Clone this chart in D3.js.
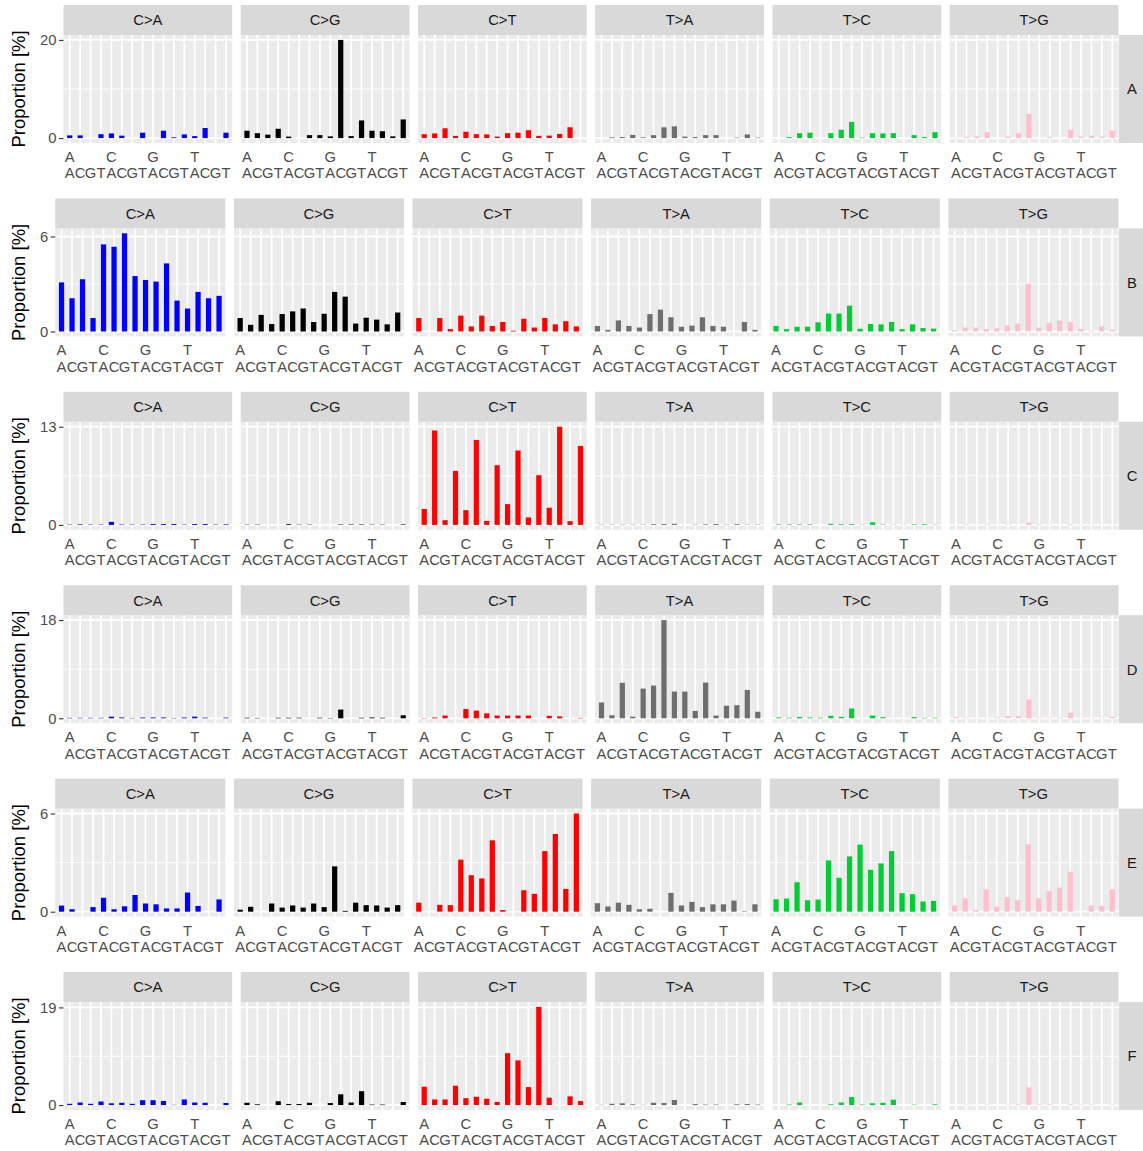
<!DOCTYPE html>
<html>
<head>
<meta charset="utf-8">
<script src="https://cdn.jsdelivr.net/npm/d3@7"></script>
<style>
  body { margin: 0; background: #fff; }
  svg { display: block; font-family: "Liberation Sans", Arial, sans-serif; }
</style>
</head>
<body>
<div id="chart"></div>
<script>
// mutation types (columns) and samples (rows)
const mutationTypes = ['C>A', 'C>G', 'C>T', 'T>A', 'T>C', 'T>G'];
const sampleNames = ['A', 'B', 'C', 'D', 'E', 'F'];
const mutationColors = ['#0000FF', '#000000', '#FF0000', '#6E6E6E', '#00CC33', '#FFC0CB'];

// trinucleotide context: 5' base (first label line) and 3' base (second line)
const fivePrime = ['A', 'A', 'A', 'A', 'C', 'C', 'C', 'C', 'G', 'G', 'G', 'G', 'T', 'T', 'T', 'T'];
const threePrime = ['A', 'C', 'G', 'T', 'A', 'C', 'G', 'T', 'A', 'C', 'G', 'T', 'A', 'C', 'G', 'T'];
const topLabels = ['A', '', '', '', 'C', '', '', '', 'G', '', '', '', 'T', '', '', ''];

// y tick (max) per row
const yTickMax = [20, 6, 13, 18, 6, 19];

// proportions [%], one array of 16 per mutation type
const sampleA = [
  [0.55, 0.55, 0, 0.8, 0.95, 0.5, 0, 1.1, 0, 1.5, 0.15, 0.75, 0.4, 2.05, 0, 1.1],
  [1.5, 1.0, 0.7, 1.9, 0.3, 0, 0.6, 0.6, 0.35, 20, 0.4, 3.6, 1.5, 1.4, 0.35, 3.8],
  [0.8, 0.95, 2.0, 0.45, 1.3, 0.8, 0.75, 0.3, 1.0, 1.1, 1.6, 0.45, 0.5, 0.85, 2.2, 0],
  [0, 0.15, 0.2, 0.65, 0.15, 0.6, 2.2, 2.4, 0.3, 0.2, 0.6, 0.6, 0, 0.1, 0.75, 0.1],
  [0, 0.2, 1.0, 1.1, 0, 1.0, 1.7, 3.3, 0.1, 1.0, 0.95, 1.0, 0, 0.6, 0.2, 1.2],
  [0.05, 0.25, 0.35, 1.2, 0, 0.3, 1.0, 4.9, 0, 0.2, 0, 1.7, 0.3, 0.5, 0.3, 1.5]
];
const sampleB = [
  [3.1, 2.1, 3.3, 0.85, 5.5, 5.35, 6.2, 3.5, 3.25, 3.15, 4.3, 1.95, 1.45, 2.5, 2.1, 2.25],
  [0.85, 0.42, 1.05, 0.47, 1.1, 1.27, 1.45, 0.6, 1.12, 2.5, 2.2, 0.5, 0.87, 0.75, 0.45, 1.2],
  [0.85, 0, 0.85, 0.15, 1.0, 0.32, 1.0, 0.35, 0.6, 0.05, 0.8, 0.25, 0.85, 0.45, 0.65, 0.32],
  [0.35, 0.1, 0.7, 0.35, 0.25, 1.1, 1.38, 0.9, 0.3, 0.37, 0.9, 0.35, 0.3, 0, 0.6, 0.1],
  [0.35, 0.15, 0.3, 0.3, 0.58, 1.13, 1.13, 1.63, 0.17, 0.47, 0.45, 0.6, 0.15, 0.45, 0.22, 0.18],
  [0.08, 0.25, 0.25, 0.15, 0.2, 0.38, 0.5, 3.0, 0.25, 0.55, 0.68, 0.6, 0.15, 0.05, 0.32, 0.1]
];
const sampleC = [
  [0.05, 0.08, 0.05, 0.05, 0.4, 0.06, 0.05, 0.05, 0.12, 0.12, 0.12, 0.05, 0.12, 0.12, 0.05, 0.08],
  [0.04, 0.04, 0, 0, 0.1, 0.04, 0.04, 0, 0, 0.06, 0.06, 0.06, 0.04, 0.04, 0, 0.07],
  [2.1, 12.5, 0.62, 7.15, 1.95, 11.25, 0.53, 7.9, 2.75, 9.85, 0.98, 6.58, 2.27, 13.0, 0.49, 10.45],
  [0.04, 0.04, 0.04, 0.04, 0.04, 0.1, 0.12, 0.14, 0, 0.04, 0.08, 0.12, 0.04, 0.1, 0.04, 0.04],
  [0.07, 0.07, 0.07, 0.07, 0, 0.14, 0.1, 0.1, 0.04, 0.35, 0.05, 0.03, 0.03, 0.07, 0.09, 0.03],
  [0.03, 0.08, 0.03, 0.08, 0.03, 0.08, 0, 0.3, 0.08, 0.05, 0, 0.1, 0.04, 0.04, 0.04, 0.04]
];
const sampleD = [
  [0.08, 0.08, 0.08, 0.08, 0.3, 0.15, 0.06, 0.14, 0.15, 0.15, 0.06, 0.14, 0.3, 0.12, 0, 0.12],
  [0.1, 0.06, 0, 0.1, 0.1, 0.1, 0, 0.1, 0.06, 1.6, 0, 0.1, 0.15, 0.1, 0, 0.55],
  [0.05, 0.15, 0.5, 0, 1.7, 1.4, 0.9, 0.5, 0.5, 0.5, 0.5, 0, 0.45, 0.35, 0, 0.07],
  [2.9, 0.55, 6.5, 0.3, 5.45, 6.0, 18, 4.9, 4.9, 1.35, 6.55, 0.5, 2.3, 2.4, 5.2, 1.2],
  [0.15, 0.1, 0.25, 0.15, 0.1, 0.45, 0.25, 1.8, 0, 0.5, 0.2, 0, 0, 0.2, 0.08, 0.1],
  [0.2, 0.1, 0.04, 0.06, 0.15, 0.4, 0.4, 3.45, 0.1, 0.1, 0.1, 1.05, 0.04, 0.06, 0.1, 0.25]
];
const sampleE = [
  [0.37, 0.15, 0, 0.28, 0.85, 0.15, 0.33, 1.02, 0.5, 0.45, 0.2, 0.2, 1.17, 0.35, 0, 0.75],
  [0.12, 0.3, 0, 0.5, 0.25, 0.38, 0.25, 0.5, 0.28, 2.77, 0.05, 0.55, 0.4, 0.38, 0.25, 0.4],
  [0.55, 0, 0.42, 0.4, 3.18, 2.23, 2.03, 4.36, 0.1, 0, 1.31, 1.09, 3.7, 4.75, 1.39, 6.0],
  [0.52, 0.32, 0.55, 0.42, 0.15, 0.18, 0, 1.15, 0.38, 0.6, 0.28, 0.45, 0.45, 0.68, 0.03, 0.45],
  [0.76, 0.8, 1.8, 0.7, 0.74, 3.13, 2.07, 3.38, 4.1, 2.56, 2.95, 3.7, 1.13, 1.07, 0.62, 0.66],
  [0.37, 0.82, 0.1, 1.37, 0.3, 0.9, 0.7, 4.12, 0.82, 1.27, 1.47, 2.43, 0, 0.37, 0.35, 1.37]
];
const sampleF = [
  [0.25, 0.5, 0.25, 0.7, 0.35, 0.45, 0.25, 0.95, 0.95, 0.8, 0.05, 1.1, 0.5, 0.45, 0, 0.4],
  [0.45, 0.15, 0, 0.75, 0.2, 0.2, 0.45, 0, 0.4, 2.1, 0.5, 2.7, 0.1, 0.1, 0, 0.6],
  [3.57, 1.1, 1.1, 3.77, 1.36, 1.62, 1.23, 0.6, 10.1, 8.7, 3.5, 19.1, 1.43, 0, 1.69, 0.78],
  [0.05, 0.25, 0.35, 0.15, 0.05, 0.45, 0.4, 1.0, 0, 0.2, 0.1, 0.1, 0, 0.15, 0.2, 0.1],
  [0, 0.1, 0.5, 0, 0, 0.15, 0.5, 1.55, 0.1, 0.35, 0.45, 1.05, 0, 0.08, 0, 0.15],
  [0, 0.1, 0, 0.1, 0, 0.1, 0.15, 3.45, 0.15, 0.15, 0, 0.15, 0.1, 0.1, 0, 0.1]
];
const samples = [sampleA, sampleB, sampleC, sampleD, sampleE, sampleF];

const W = 1143, H = 1151;
const firstRowTop = 5, rowPitch = 193.4;
const stripH = 30, panelH = 108;
const panelRight = 1118.5, panelGap = 8.5;
const fontSize = 14.8;
const contexts = fivePrime.map((b, i) => b + '_' + threePrime[i]);

const svg = d3.select('#chart')
  .append('svg')
  .attr('width', W)
  .attr('height', H);

svg.append('rect').attr('width', W).attr('height', H).attr('fill', '#fff');

// measure tick label width so the panels start where ggplot would put them
const measure = svg.append('text').style('font-size', fontSize + 'px');
const labelWidth = s => { measure.text(s); return measure.node().getComputedTextLength(); };

samples.forEach((rowVals, r) => {
  const top = firstRowTop + r * rowPitch;
  const panelTop = top + stripH;
  const panelBottom = panelTop + panelH;
  const maxV = d3.max(rowVals.flat());

  const y = d3.scaleLinear()
    .domain([-0.05 * maxV, 1.05 * maxV])
    .range([panelBottom, panelTop]);

  const left = 47 + labelWidth(String(yTickMax[r]));
  const pw = (panelRight - left - 5 * panelGap) / 6;

  const row = svg.append('g');

  mutationTypes.forEach((mt, c) => {
    const x0 = left + c * (pw + panelGap);
    const x = d3.scalePoint()
      .domain(contexts)
      .range([x0, x0 + pw])
      .padding(0.6);
    const bw = x.step() * 0.5;
    const g = row.append('g');

    // panel background
    g.append('rect')
      .attr('x', x0).attr('y', panelTop)
      .attr('width', pw).attr('height', panelH)
      .attr('fill', '#EBEBEB');

    // minor horizontal grid
    g.append('line')
      .attr('x1', x0).attr('x2', x0 + pw)
      .attr('y1', y(yTickMax[r] / 2)).attr('y2', y(yTickMax[r] / 2))
      .attr('stroke', '#fff').attr('stroke-width', 0.9);

    // major horizontal grid
    g.selectAll('.hgrid')
      .data([0, yTickMax[r]])
      .enter().append('line')
      .attr('x1', x0).attr('x2', x0 + pw)
      .attr('y1', d => y(d)).attr('y2', d => y(d))
      .attr('stroke', '#fff').attr('stroke-width', 1.8);

    // vertical grid
    g.selectAll('.vgrid')
      .data(contexts)
      .enter().append('line')
      .attr('x1', d => x(d)).attr('x2', d => x(d))
      .attr('y1', panelTop).attr('y2', panelBottom)
      .attr('stroke', '#fff').attr('stroke-width', 1.8);

    // bars
    g.selectAll('.bar')
      .data(rowVals[c])
      .enter().append('rect')
      .attr('x', (d, i) => x(contexts[i]) - bw / 2)
      .attr('width', bw)
      .attr('y', d => y(d))
      .attr('height', d => y(0) - y(d))
      .attr('fill', mutationColors[c]);

    // top strip
    g.append('rect')
      .attr('x', x0).attr('y', top)
      .attr('width', pw).attr('height', stripH)
      .attr('fill', '#D9D9D9');
    g.append('text')
      .attr('x', x0 + pw / 2).attr('y', top + stripH / 2 + 5.3)
      .attr('text-anchor', 'middle')
      .style('font-size', fontSize + 'px')
      .attr('fill', '#1A1A1A')
      .text(mt);

    // x labels, two lines
    g.selectAll('.xl1')
      .data(topLabels)
      .enter().append('text')
      .attr('x', (d, i) => x(contexts[i]))
      .attr('y', panelBottom + 19)
      .attr('text-anchor', 'middle')
      .style('font-size', fontSize + 'px')
      .attr('fill', '#4D4D4D')
      .text(d => d);
    g.selectAll('.xl2')
      .data(threePrime)
      .enter().append('text')
      .attr('x', (d, i) => x(contexts[i]))
      .attr('y', panelBottom + 35.3)
      .attr('text-anchor', 'middle')
      .style('font-size', fontSize + 'px')
      .attr('fill', '#4D4D4D')
      .text(d => d);
  });

  // y axis
  const yAxis = d3.axisLeft(y)
    .tickValues([0, yTickMax[r]])
    .tickFormat(d3.format('d'))
    .tickSize(4.5)
    .tickPadding(2.5);
  const ya = row.append('g')
    .attr('transform', 'translate(' + left + ',0)')
    .call(yAxis);
  ya.select('.domain').remove();
  ya.selectAll('line').attr('stroke', '#333333').attr('stroke-width', 1.1);
  ya.selectAll('text')
    .attr('fill', '#4D4D4D')
    .style('font-size', fontSize + 'px')
    .style('font-family', '"Liberation Sans", Arial, sans-serif');

  // y title
  row.append('text')
    .attr('transform', 'translate(25,' + (panelTop + panelH / 2) + ') rotate(-90)')
    .attr('text-anchor', 'middle')
    .style('font-size', '18.5px')
    .attr('fill', '#000')
    .text('Proportion [%]');

  // right strip
  row.append('rect')
    .attr('x', panelRight + 0.5).attr('y', panelTop)
    .attr('width', 26).attr('height', panelH)
    .attr('fill', '#D9D9D9');
  row.append('text')
    .attr('x', panelRight + 13.5).attr('y', panelTop + panelH / 2 + 5.3)
    .attr('text-anchor', 'middle')
    .style('font-size', fontSize + 'px')
    .attr('fill', '#1A1A1A')
    .text(sampleNames[r]);
});

measure.remove();
</script>
</body>
</html>
